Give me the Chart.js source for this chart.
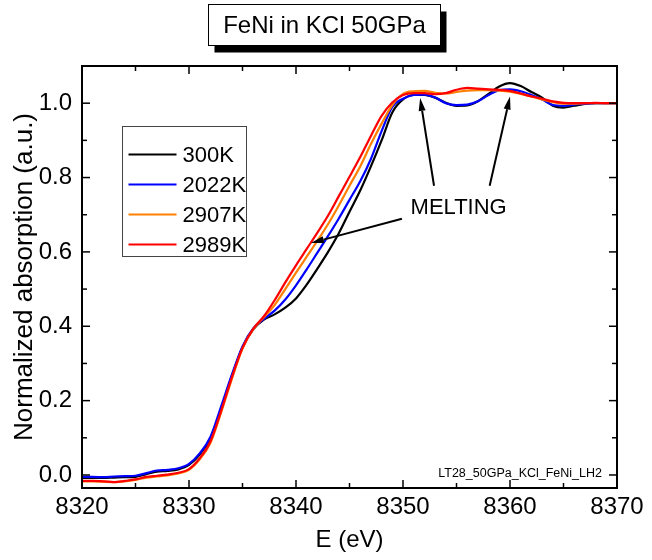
<!DOCTYPE html>
<html>
<head>
<meta charset="utf-8">
<script src="https://cdn.jsdelivr.net/npm/chart.js@4.4.1/dist/chart.umd.min.js"></script>
<style>
  html, body { margin: 0; padding: 0; background: #fff; }
</style>
</head>
<body>
<canvas id="xanesChart" width="652" height="560"></canvas>
<script>
// ===== datos =====
const energy = [8320, 8321, 8322, 8323, 8324, 8325, 8326, 8327, 8328, 8329,
                8330, 8331, 8332, 8333, 8334, 8335, 8336, 8337, 8338, 8339,
                8340, 8341, 8342, 8343, 8344, 8345, 8346, 8347, 8348, 8349,
                8350, 8351, 8352, 8353, 8354, 8355, 8356, 8357, 8358, 8359,
                8360, 8361, 8362, 8363, 8364, 8365, 8366, 8367, 8368, 8369, 8370];

const abs300K = [-0.008, -0.008, -0.008, -0.007, -0.006, -0.005, 0.002, 0.009, 0.011, 0.015,
                 0.027, 0.055, 0.098, 0.178, 0.265, 0.343, 0.392, 0.418, 0.432, 0.450,
                 0.475, 0.512, 0.555, 0.600, 0.650, 0.708, 0.765, 0.830, 0.900, 0.975,
                 1.010, 1.022, 1.022, 1.015, 1.001, 0.993, 0.994, 1.005, 1.025, 1.045,
                 1.054, 1.046, 1.030, 1.015, 0.993, 0.988, 0.993, 0.998, 1.000, 1.000, 1.000];

const abs2022K = [-0.005, -0.005, -0.006, -0.004, -0.003, -0.002, 0.005, 0.012, 0.014, 0.018,
                  0.030, 0.058, 0.102, 0.184, 0.269, 0.346, 0.394, 0.420, 0.442, 0.472,
                  0.510, 0.553, 0.598, 0.643, 0.690, 0.740, 0.790, 0.850, 0.925, 0.990,
                  1.012, 1.022, 1.023, 1.015, 1.000, 0.995, 0.996, 1.005, 1.022, 1.035,
                  1.037, 1.032, 1.022, 1.010, 0.995, 0.993, 0.996, 0.999, 1.000, 1.000, 1.000];

const abs2907K = [-0.017, -0.017, -0.018, -0.019, -0.017, -0.013, -0.007, -0.004, -0.001, 0.004,
                  0.014, 0.042, 0.086, 0.168, 0.258, 0.340, 0.392, 0.424, 0.457, 0.500,
                  0.544, 0.587, 0.630, 0.675, 0.725, 0.778, 0.830, 0.890, 0.945, 0.995,
                  1.025, 1.032, 1.033, 1.028, 1.026, 1.030, 1.034, 1.035, 1.035, 1.034,
                  1.031, 1.025, 1.018, 1.010, 1.003, 0.999, 0.999, 1.000, 1.000, 1.000, 1.000];

const abs2989K = [-0.016, -0.016, -0.017, -0.019, -0.016, -0.012, -0.005, -0.002, 0.001, 0.006,
                  0.016, 0.045, 0.090, 0.172, 0.262, 0.342, 0.393, 0.427, 0.470, 0.518,
                  0.564, 0.608, 0.652, 0.698, 0.750, 0.802, 0.855, 0.912, 0.966, 1.002,
                  1.022, 1.027, 1.027, 1.024, 1.027, 1.036, 1.041, 1.039, 1.037, 1.036,
                  1.033, 1.026, 1.018, 1.012, 1.005, 1.001, 1.000, 1.000, 1.001, 1.000, 1.000];

const seriesLabels = ['300K', '2022K', '2907K', '2989K'];
const seriesColors = ['#000000', '#0000ff', '#ff8000', '#ff0000'];

const xTicks = [8320, 8330, 8340, 8350, 8360, 8370];
const yTicks = [0.0, 0.2, 0.4, 0.6, 0.8, 1.0];

const FONT = "'Liberation Sans', Arial, Helvetica, sans-serif";

// flechas "MELTING" en coordenadas de datos (E, absorcion)
const arrows = [
    { from: [8352.9, 0.778], to: [8351.6, 1.014] },
    { from: [8358.1, 0.778], to: [8360.0, 1.018] },
    { from: [8349.9, 0.689], to: [8341.4, 0.624] }
];
const meltingLabel = { text: 'MELTING', at: [8355.2, 0.718] };

// ===== dibujo del marco, ticks, leyenda y anotaciones =====
function drawArrow(ctx, x1, y1, x2, y2) {
    const ang = Math.atan2(y2 - y1, x2 - x1);
    const headLen = 13, headHalf = 3.5;
    const bx = x2 - headLen * Math.cos(ang);
    const by = y2 - headLen * Math.sin(ang);
    ctx.beginPath();
    ctx.moveTo(x1, y1);
    ctx.lineTo(bx, by);
    ctx.stroke();
    ctx.beginPath();
    ctx.moveTo(x2, y2);
    ctx.lineTo(bx + headHalf * Math.sin(ang), by - headHalf * Math.cos(ang));
    ctx.lineTo(bx - headHalf * Math.sin(ang), by + headHalf * Math.cos(ang));
    ctx.closePath();
    ctx.fill();
}

const framePlugin = {
    id: 'originFrame',
    afterDatasetsDraw(chart) {
        const { ctx, chartArea: a, scales: { x, y } } = chart;
        ctx.save();
        ctx.strokeStyle = '#000';
        ctx.fillStyle = '#000';

        // ticks hacia dentro en los cuatro lados
        ctx.lineWidth = 1.5;
        const tick = (x1, y1, x2, y2) => { ctx.beginPath(); ctx.moveTo(x1, y1); ctx.lineTo(x2, y2); ctx.stroke(); };
        xTicks.forEach((v, i) => {
            const px = x.getPixelForValue(v);
            tick(px, a.bottom, px, a.bottom - 8);
            tick(px, a.top, px, a.top + 8);
            if (i < xTicks.length - 1) {
                const pm = x.getPixelForValue((v + xTicks[i + 1]) / 2);
                tick(pm, a.bottom, pm, a.bottom - 5);
                tick(pm, a.top, pm, a.top + 5);
            }
        });
        yTicks.forEach((v, i) => {
            const py = y.getPixelForValue(v);
            tick(a.left, py, a.left + 8, py);
            tick(a.right, py, a.right - 8, py);
            if (i < yTicks.length - 1) {
                const pm = y.getPixelForValue((v + yTicks[i + 1]) / 2);
                tick(a.left, pm, a.left + 5, pm);
                tick(a.right, pm, a.right - 5, pm);
            }
        });

        // marco
        ctx.lineWidth = 2;
        ctx.strokeRect(a.left, a.top, a.right - a.left, a.bottom - a.top);

        // flechas y texto MELTING
        ctx.lineWidth = 2;
        arrows.forEach(ar => {
            drawArrow(ctx,
                x.getPixelForValue(ar.from[0]), y.getPixelForValue(ar.from[1]),
                x.getPixelForValue(ar.to[0]), y.getPixelForValue(ar.to[1]));
        });
        ctx.font = '22px ' + FONT;
        ctx.textAlign = 'center';
        ctx.textBaseline = 'middle';
        ctx.fillText(meltingLabel.text, x.getPixelForValue(meltingLabel.at[0]), y.getPixelForValue(meltingLabel.at[1]));

        // etiqueta del archivo abajo a la derecha
        ctx.font = '12.5px ' + FONT;
        ctx.textAlign = 'right';
        ctx.textBaseline = 'alphabetic';
        ctx.fillText('LT28_50GPa_KCl_FeNi_LH2', a.right - 15, a.bottom - 11);

        // leyenda dentro del grafico
        const lx = a.left + 40.5, ly = a.top + 60.5;
        ctx.lineWidth = 1;
        ctx.strokeStyle = '#444';
        ctx.strokeRect(lx, ly, 124, 130);
        ctx.font = '22px ' + FONT;
        ctx.textAlign = 'left';
        ctx.textBaseline = 'middle';
        chart.data.datasets.forEach((ds, i) => {
            const yy = ly + 28 + i * 30;
            ctx.strokeStyle = ds.borderColor;
            ctx.lineWidth = 2;
            ctx.beginPath();
            ctx.moveTo(lx + 6, yy);
            ctx.lineTo(lx + 54, yy);
            ctx.stroke();
            ctx.fillStyle = '#000';
            ctx.fillText(ds.label, lx + 60, yy + 1);
        });
        ctx.restore();
    },
    afterDraw(chart) {
        // caja del titulo con sombra
        const { ctx } = chart;
        const bx = 208.5, by = 4.5, bw = 232, bh = 41;
        ctx.save();
        ctx.fillStyle = '#000';
        ctx.fillRect(bx + 6, by + 7, bw, bh);
        ctx.fillStyle = '#fff';
        ctx.fillRect(bx, by, bw, bh);
        ctx.strokeStyle = '#000';
        ctx.lineWidth = 1;
        ctx.strokeRect(bx, by, bw, bh);
        ctx.fillStyle = '#000';
        ctx.font = '24px ' + FONT;
        ctx.textAlign = 'center';
        ctx.textBaseline = 'middle';
        ctx.fillText('FeNi in KCl 50GPa', bx + bw / 2, by + bh / 2 + 1);
        ctx.restore();
    }
};

// ===== grafico =====
const ctxXanes = document.getElementById('xanesChart');
const allSeries = [abs300K, abs2022K, abs2907K, abs2989K];

new Chart(ctxXanes, {
    type: 'line',
    data: {
        datasets: allSeries.map((vals, i) => ({
            label: seriesLabels[i],
            data: energy.map((e, k) => ({ x: e, y: vals[k] })),
            borderColor: seriesColors[i],
            borderWidth: 2.2,
            pointRadius: 0,
            fill: false,
            cubicInterpolationMode: 'monotone',
            order: allSeries.length - i // el rojo queda encima
        }))
    },
    options: {
        responsive: false,
        animation: false,
        layout: { padding: { top: 66, right: 35, left: 0, bottom: 0 } },
        plugins: {
            legend: { display: false },
            tooltip: { enabled: false }
        },
        scales: {
            x: {
                type: 'linear',
                min: 8320,
                max: 8370,
                afterBuildTicks: s => { s.ticks = xTicks.map(v => ({ value: v })); },
                afterFit: s => { s.height = 72; },
                grid: { display: false, drawTicks: false },
                border: { display: false },
                ticks: {
                    padding: 5,
                    color: '#000',
                    font: { family: FONT, size: 24 },
                    maxRotation: 0,
                    callback: v => String(v)
                },
                title: {
                    display: true,
                    text: 'E (eV)',
                    color: '#000',
                    font: { family: FONT, size: 24 },
                    padding: { top: 0, bottom: 5 }
                }
            },
            y: {
                min: -0.035,
                max: 1.10,
                afterBuildTicks: s => { s.ticks = yTicks.map(v => ({ value: v })); },
                afterFit: s => { s.width = 82; },
                grid: { display: false, drawTicks: false },
                border: { display: false },
                ticks: {
                    padding: 10,
                    color: '#000',
                    font: { family: FONT, size: 24 },
                    callback: v => v.toFixed(1)
                },
                title: {
                    display: true,
                    text: 'Normalized absorption (a.u.)',
                    color: '#000',
                    font: { family: FONT, size: 26 },
                    padding: { top: 9, bottom: 0 }
                }
            }
        }
    },
    plugins: [framePlugin]
});
</script>
</body>
</html>
